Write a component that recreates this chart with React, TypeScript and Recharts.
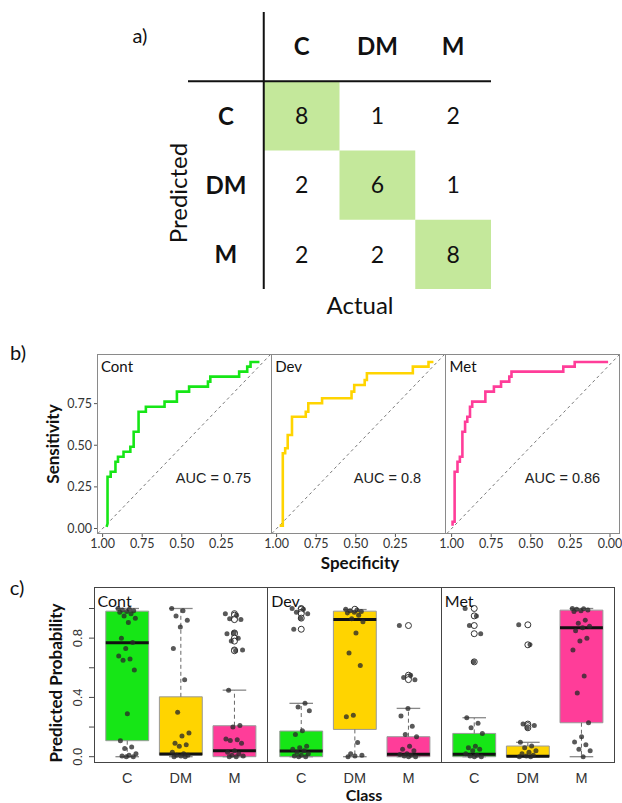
import React from "react";
import {
  ScatterChart,
  Scatter,
  LineChart,
  Line,
  XAxis,
  YAxis,
  ReferenceArea,
  ReferenceLine,
  ReferenceDot,
} from "recharts";

// ---- data ----
const classes = ["C", "DM", "M"];
const panelNames = ["Cont", "Dev", "Met"];

// confusion matrix: rows = predicted, cols = actual
const confusion = [
  [8, 1, 2],
  [2, 6, 1],
  [2, 2, 8],
];

// ROC curve coordinates [specificity, sensitivity]
const rocCont = [
  [0.975, 0.01], [0.969, 0.03], [0.969, 0.311], [0.949, 0.311], [0.949, 0.341], [0.919, 0.341],
  [0.919, 0.401], [0.903, 0.401], [0.903, 0.431], [0.868, 0.431], [0.868, 0.461], [0.825, 0.461],
  [0.825, 0.491], [0.804, 0.491], [0.804, 0.581], [0.773, 0.581], [0.773, 0.701], [0.727, 0.701],
  [0.727, 0.731], [0.609, 0.731], [0.609, 0.762], [0.531, 0.762], [0.531, 0.822], [0.454, 0.822],
  [0.454, 0.852], [0.335, 0.852], [0.335, 0.882], [0.32, 0.882], [0.32, 0.912], [0.138, 0.912],
  [0.138, 0.942], [0.087, 0.942], [0.087, 0.972], [0.066, 0.972], [0.066, 1], [0.01, 1],
];
const rocDev = [
  [0.981, 0.017], [0.961, 0.017], [0.961, 0.452], [0.946, 0.452], [0.946, 0.482], [0.93, 0.482],
  [0.93, 0.562], [0.903, 0.562], [0.903, 0.671], [0.816, 0.671], [0.816, 0.701], [0.8, 0.701],
  [0.8, 0.752], [0.713, 0.752], [0.713, 0.782], [0.527, 0.782], [0.527, 0.822], [0.51, 0.822],
  [0.51, 0.862], [0.444, 0.862], [0.444, 0.892], [0.43, 0.892], [0.43, 0.932], [0.14, 0.932],
  [0.14, 0.972], [0.041, 0.972], [0.041, 1], [0.01, 1],
];
const rocMet = [
  [0.994, 0.017], [0.994, 0.041], [0.981, 0.041], [0.981, 0.341], [0.963, 0.341], [0.963, 0.401],
  [0.948, 0.401], [0.948, 0.431], [0.932, 0.431], [0.932, 0.581], [0.915, 0.581], [0.915, 0.641],
  [0.901, 0.641], [0.901, 0.671], [0.884, 0.671], [0.884, 0.731], [0.87, 0.731], [0.87, 0.762],
  [0.787, 0.762], [0.787, 0.822], [0.733, 0.822], [0.733, 0.852], [0.688, 0.852], [0.688, 0.882],
  [0.636, 0.882], [0.636, 0.912], [0.622, 0.912], [0.622, 0.942], [0.295, 0.942], [0.295, 0.972],
  [0.223, 0.972], [0.223, 1], [0.012, 1],
];
const aucs = [0.75, 0.8, 0.86];
const specTicks = [1, 0.75, 0.5, 0.25];
const sensTicks = [0, 0.25, 0.5, 0.75];

// boxplot stats [lower whisker, q1, median, q3, upper whisker] for C, DM, M
const contBoxes = [
  [0, 0.108, 0.769, 0.982, 1.0],
  [0, 0.011, 0.018, 0.404, 1.0],
  [0, 0.0, 0.04, 0.209, 0.449],
];
const devBoxes = [
  [0, 0.0, 0.038, 0.173, 0.36],
  [0, 0.184, 0.926, 0.982, 0.993],
  [0, 0.0, 0.016, 0.135, 0.326],
];
const metBoxes = [
  [0, 0.0, 0.016, 0.157, 0.263],
  [0, 0.0, 0.003, 0.072, 0.097],
  [0, 0.229, 0.87, 0.989, 1.0],
];

// predicted probabilities per class
const contPoints = [
  [1.0, 0.995, 0.99, 0.985, 0.98, 0.975, 0.965, 0.95, 0.935, 0.905, 0.8, 0.77, 0.73, 0.68, 0.66, 0.65, 0.585, 0.29, 0.108, 0.065, 0.055, 0.02, 0.01, 0.005, 0.0, 0.0],
  [1.0, 0.985, 0.95, 0.92, 0.875, 0.73, 0.52, 0.3, 0.16, 0.14, 0.09, 0.08, 0.07, 0.03, 0.02, 0.01, 0.01, 0.005, 0.0, 0.0],
  [0.965, 0.955, 0.93, 0.925, 0.835, 0.83, 0.8, 0.78, 0.72, 0.715, 0.449, 0.21, 0.2, 0.12, 0.115, 0.11, 0.09, 0.04, 0.03, 0.02, 0.01, 0.005, 0.0, 0.0],
];
const devPoints = [
  [1.0, 0.995, 0.975, 0.965, 0.935, 0.86, 0.36, 0.335, 0.31, 0.175, 0.15, 0.07, 0.06, 0.05, 0.04, 0.03, 0.02, 0.01, 0.005, 0.0, 0.0],
  [0.995, 0.99, 0.985, 0.98, 0.975, 0.97, 0.955, 0.93, 0.91, 0.835, 0.7, 0.615, 0.28, 0.27, 0.095, 0.02, 0.01, 0.005, 0.0],
  [0.885, 0.55, 0.535, 0.52, 0.326, 0.275, 0.205, 0.15, 0.135, 0.07, 0.05, 0.04, 0.02, 0.015, 0.01, 0.005, 0.0, 0.0],
];
const metPoints = [
  [1.0, 0.95, 0.885, 0.83, 0.64, 0.263, 0.225, 0.195, 0.157, 0.07, 0.06, 0.05, 0.04, 0.02, 0.01, 0.005, 0.0, 0.0],
  [0.89, 0.755, 0.22, 0.21, 0.195, 0.097, 0.072, 0.06, 0.04, 0.03, 0.02, 0.01, 0.005, 0.0, 0.0],
  [1.0, 0.998, 0.995, 0.99, 0.985, 0.98, 0.92, 0.9, 0.88, 0.87, 0.85, 0.8, 0.78, 0.72, 0.545, 0.43, 0.229, 0.135, 0.1, 0.08, 0.05, 0.04, 0.0],
];

const rocSets = [rocCont, rocDev, rocMet];
const boxSets = [contBoxes, devBoxes, metBoxes];
const pointSets = [contPoints, devPoints, metPoints];

// ---- styles ----
const GREEN = "#16e616";
const YELLOW = "#ffd400";
const PINK = "#ff3d99";
const classColors = [GREEN, YELLOW, PINK];
const CELL = "#c4e89b";

const ROC_TOP = 354;
const ROC_H = 180;
const ROC_W = 174.3;
const rocLefts = [97, 271.3, 445.6];

const BOX_TOP = 587;
const BOX_H = 176;
const BOX_W = 173.7;
const boxLefts = [94, 267.7, 441.3];

// stripchart-style horizontal spread
const jitter = (i: number) => (((i * 0.618034) % 1) - 0.5) * 0.34;

function Txt({ x, y, children, size = 16, bold = false, rotate = false, left = false, family = "Lato" }: any) {
  return (
    <div
      style={{
        position: "absolute",
        left: x,
        top: y,
        transform: `translate(${left ? "0" : "-50%"},-50%)${rotate ? " rotate(-90deg)" : ""}`,
        fontSize: size,
        fontWeight: bold ? 700 : 400,
        fontFamily: family,
        whiteSpace: "nowrap",
        lineHeight: 1,
        color: "#111",
      }}
    >
      {children}
    </div>
  );
}

function ConfusionMatrix() {
  const cells = confusion.flatMap((row, i) => row.map((n, j) => ({ x: j + 0.5, y: i + 0.5, n })));
  const colHeads = classes.map((c, j) => ({ x: j + 0.5, y: -0.5, n: c }));
  const rowHeads = classes.map((c, i) => ({ x: -0.5, y: i + 0.5, n: c }));
  const numShape = (p: any) => (
    <text x={p.cx} y={p.cy} dy="0.36em" textAnchor="middle" fontSize={23} fontFamily="Lato" fill="#111">
      {p.payload.n}
    </text>
  );
  const headShape = (p: any) => (
    <text x={p.cx} y={p.cy} dy="0.36em" textAnchor="middle" fontSize={24} fontWeight={700} fontFamily="Lato" fill="#111">
      {p.payload.n}
    </text>
  );
  return (
    <div style={{ position: "absolute", left: 178, top: 2 }}>
      <ScatterChart width={323} height={297} margin={{ top: 10, right: 10, bottom: 10, left: 10 }}>
        <XAxis type="number" dataKey="x" domain={[-1, 3]} hide allowDataOverflow />
        <YAxis type="number" dataKey="y" domain={[-1, 3]} reversed hide allowDataOverflow />
        {classes.map((c, i) => (
          <ReferenceArea key={c} x1={i} x2={i + 1} y1={i} y2={i + 1} fill={CELL} fillOpacity={1} stroke="none" />
        ))}
        <ReferenceLine segment={[{ x: -1, y: 0 }, { x: 3, y: 0 }]} stroke="#111" strokeWidth={2} />
        <ReferenceLine segment={[{ x: 0, y: -1 }, { x: 0, y: 3 }]} stroke="#111" strokeWidth={2} />
        <Scatter data={cells} shape={numShape} isAnimationActive={false} />
        <Scatter data={colHeads} shape={headShape} isAnimationActive={false} />
        <Scatter data={rowHeads} shape={headShape} isAnimationActive={false} />
      </ScatterChart>
    </div>
  );
}

function RocPanel({ idx }: { idx: number }) {
  const showY = idx === 0;
  const padL = showY ? 50 : 16;
  const padR = 14;
  const data = rocSets[idx].map(([spec, sens]) => ({ spec, sens }));
  const tickStyle = { fontSize: 12.5, fill: "#333", fontFamily: "Lato" };
  return (
    <div style={{ position: "absolute", left: rocLefts[idx] - padL, top: ROC_TOP }}>
      <LineChart
        width={padL + ROC_W + padR}
        height={ROC_H + 24}
        data={data}
        margin={{ top: 0, right: padR, bottom: 0, left: showY ? 0 : padL }}
      >
        <XAxis
          type="number"
          dataKey="spec"
          domain={[-0.065, 1.0355]}
          reversed
          allowDataOverflow
          ticks={idx === 2 ? [...specTicks, 0] : specTicks}
          interval={0}
          tickFormatter={(v: number) => v.toFixed(2)}
          height={24}
          axisLine={false}
          tickSize={3}
          tickMargin={2}
          tick={tickStyle}
          tickLine={{ stroke: "#555" }}
        />
        <YAxis
          type="number"
          dataKey="sens"
          domain={[-0.033, 1.048]}
          allowDataOverflow
          hide={!showY}
          ticks={sensTicks}
          interval={0}
          tickFormatter={(v: number) => v.toFixed(2)}
          width={50}
          axisLine={false}
          tickSize={3}
          tickMargin={2}
          tick={tickStyle}
          tickLine={{ stroke: "#555" }}
        />
        <ReferenceLine
          segment={[{ x: 1.03, y: -0.03 }, { x: -0.06, y: 1.045 }]}
          stroke="#777"
          strokeDasharray="3 3"
        />
        <Line
          type="linear"
          dataKey="sens"
          stroke={classColors[idx]}
          strokeWidth={2.6}
          dot={false}
          isAnimationActive={false}
        />
        <ReferenceDot
          x={0.3}
          y={0.307}
          r={0}
          fill="none"
          stroke="none"
          label={{
            value: `AUC = ${aucs[idx]}`,
            position: "center",
            fontSize: 14.5,
            fill: "#222",
            fontFamily: "Liberation Sans",
          }}
        />
      </LineChart>
    </div>
  );
}

function ProbTick(props: any) {
  const { x, y, payload } = props;
  const v = payload.value;
  if (![0, 0.4, 0.8].some((t) => Math.abs(t - v) < 1e-6)) return <g />;
  return (
    <text
      x={x - 5}
      y={y}
      transform={`rotate(-90 ${x - 5} ${y})`}
      textAnchor="middle"
      fontSize={13}
      fill="#333"
      fontFamily="Liberation Sans"
    >
      {v.toFixed(1)}
    </text>
  );
}

const fillDot = (p: any) => <circle cx={p.cx} cy={p.cy} r={2.5} fill="#2a2a2a" fillOpacity={0.78} />;
const openDot = (p: any) => <circle cx={p.cx} cy={p.cy} r={3} fill="#fff" stroke="#333" strokeWidth={1} />;

function BoxPanel({ idx }: { idx: number }) {
  const stats = boxSets[idx];
  const pts = pointSets[idx];
  const showY = idx === 0;
  const padL = showY ? 40 : 12;
  const padR = 12;
  const points = pts.flatMap((vals, k) => vals.map((v, i) => ({ x: k + 1 + jitter(i), y: v })));
  const outliers = pts.flatMap((vals, k) =>
    vals.filter((v) => v > stats[k][4] || v < stats[k][0]).map((v) => ({ x: k + 1, y: v }))
  );
  return (
    <div style={{ position: "absolute", left: boxLefts[idx] - padL, top: BOX_TOP }}>
      <ScatterChart
        width={padL + BOX_W + padR}
        height={BOX_H + 24}
        margin={{ top: 0, right: padR, bottom: 0, left: showY ? 0 : padL }}
      >
        <XAxis
          type="number"
          dataKey="x"
          domain={[0.38, 3.62]}
          allowDataOverflow
          ticks={[1, 2, 3]}
          interval={0}
          tickFormatter={(v: number) => classes[v - 1]}
          height={24}
          axisLine={false}
          tickLine={false}
          tickMargin={4}
          tick={{ fontSize: 14.5, fill: "#333", fontFamily: "Liberation Sans" }}
        />
        <YAxis
          type="number"
          dataKey="y"
          domain={[-0.0425, 1.145]}
          allowDataOverflow
          hide={!showY}
          ticks={[0, 0.2, 0.4, 0.6, 0.8, 1]}
          interval={0}
          width={40}
          axisLine={false}
          tickSize={5}
          tickMargin={2}
          tick={<ProbTick />}
          tickLine={{ stroke: "#444" }}
        />
        {stats.map(([lo, q1, med, q3, hi], k) => (
          <React.Fragment key={k}>
            <ReferenceLine segment={[{ x: k + 1, y: q3 }, { x: k + 1, y: hi }]} stroke="#666" strokeDasharray="4 3" />
            <ReferenceLine segment={[{ x: k + 1, y: q1 }, { x: k + 1, y: lo }]} stroke="#666" strokeDasharray="4 3" />
            <ReferenceLine segment={[{ x: k + 0.78, y: hi }, { x: k + 1.22, y: hi }]} stroke="#888" strokeWidth={1.3} />
            <ReferenceLine segment={[{ x: k + 0.78, y: lo }, { x: k + 1.22, y: lo }]} stroke="#888" strokeWidth={1.3} />
            <ReferenceArea
              x1={k + 0.6}
              x2={k + 1.4}
              y1={q1}
              y2={q3}
              fill={classColors[k]}
              fillOpacity={1}
              stroke="#9a9a9a"
              strokeWidth={1}
            />
            <ReferenceLine segment={[{ x: k + 0.6, y: med }, { x: k + 1.4, y: med }]} stroke="#111" strokeWidth={3} />
          </React.Fragment>
        ))}
        <Scatter data={outliers} shape={openDot} isAnimationActive={false} />
        <Scatter data={points} shape={fillDot} isAnimationActive={false} />
      </ScatterChart>
    </div>
  );
}

export default function App() {
  return (
    <div
      style={{
        position: "absolute",
        left: 0,
        top: 0,
        width: 622,
        height: 803,
        background: "#fff",
        overflow: "hidden",
      }}
    >
      {/* a) confusion matrix */}
      <Txt x={140} y={35} size={20}>a)</Txt>
      <ConfusionMatrix />
      <Txt x={178} y={193} size={24} rotate>Predicted</Txt>
      <Txt x={360} y={305} size={24}>Actual</Txt>

      {/* b) ROC curves */}
      <Txt x={18} y={352} size={20}>b)</Txt>
      {[0, 1, 2].map((i) => (
        <RocPanel key={i} idx={i} />
      ))}
      <div
        style={{
          position: "absolute",
          left: rocLefts[0],
          top: ROC_TOP,
          width: ROC_W * 3,
          height: ROC_H,
          border: "1.3px solid #8a8a8a",
          boxSizing: "border-box",
        }}
      />
      {[1, 2].map((i) => (
        <div
          key={i}
          style={{ position: "absolute", left: rocLefts[i] - 0.65, top: ROC_TOP, width: 1.3, height: ROC_H, background: "#8a8a8a" }}
        />
      ))}
      {panelNames.map((n, i) => (
        <Txt key={n} x={rocLefts[i] + 4} y={366} size={15} left>{n}</Txt>
      ))}
      <Txt x={52} y={444} size={17} bold rotate>Sensitivity</Txt>
      <Txt x={360} y={562} size={17} bold>Specificity</Txt>

      {/* c) boxplots */}
      <Txt x={17} y={587} size={20}>c)</Txt>
      {[0, 1, 2].map((i) => (
        <BoxPanel key={i} idx={i} />
      ))}
      <div
        style={{
          position: "absolute",
          left: boxLefts[0],
          top: BOX_TOP,
          width: BOX_W * 3,
          height: BOX_H,
          border: "1.5px solid #444",
          boxSizing: "border-box",
        }}
      />
      {[1, 2].map((i) => (
        <div
          key={i}
          style={{ position: "absolute", left: boxLefts[i] - 0.75, top: BOX_TOP, width: 1.5, height: BOX_H, background: "#444" }}
        />
      ))}
      {panelNames.map((n, i) => (
        <Txt key={n} x={boxLefts[i] + 3.5} y={601} size={16} left>{n}</Txt>
      ))}
      <Txt x={55} y={683} size={17} bold rotate>Predicted Probability</Txt>
      <Txt x={364} y={795} size={16} bold>Class</Txt>
    </div>
  );
}
